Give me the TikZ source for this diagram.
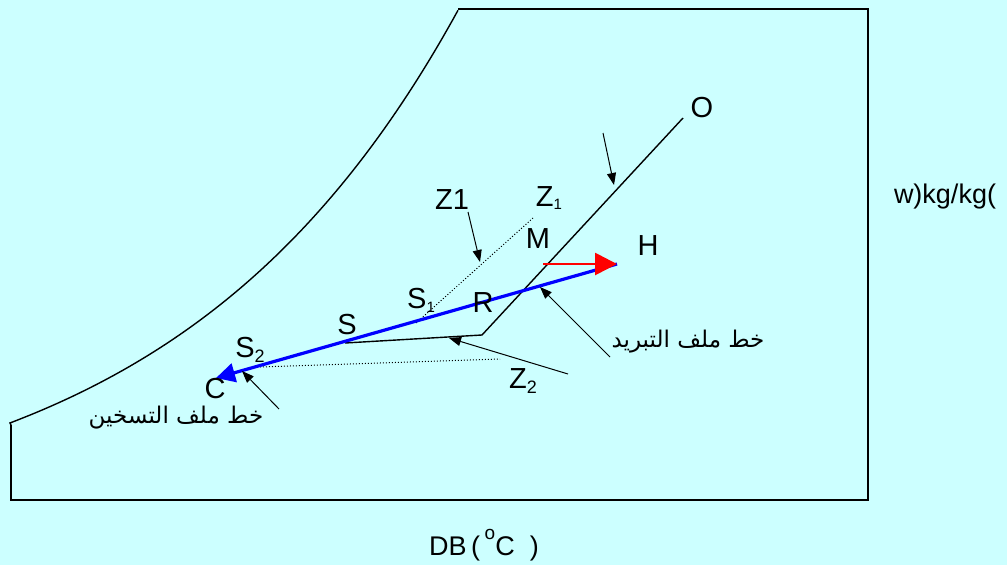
\documentclass[tikz,border=0pt]{standalone}
\usepackage{fontspec}
\setmainfont{Liberation Sans}
\newfontfamily\arabicfont[Script=Arabic]{DejaVu Sans}
\TeXXeTstate=1
\usetikzlibrary{arrows.meta}
\definecolor{bgcyan}{RGB}{204,255,255}
\definecolor{cblue}{RGB}{0,0,255}
\definecolor{cred}{RGB}{255,0,0}
\begin{document}
\begin{tikzpicture}[x=1pt,y=-1pt,
  lbl/.style={font=\fontsize{29}{32}\selectfont, inner sep=0pt},
  arlbl/.style={font=\arabicfont\fontsize{23}{26}\selectfont, inner sep=0pt},
  frame/.style={line width=1.8pt},
  proc/.style={line width=1.4pt},
  pointer/.style={line width=1pt,-{Triangle[length=12pt,width=9pt]}},
  dotline/.style={line width=1pt,dotted},
  heatline/.style={line width=3.2pt,cblue,-{Triangle[length=19pt,width=19pt]}},
  redarrow/.style={line width=2.8pt,cred,-{Triangle[length=22pt,width=22pt]}}]
\useasboundingbox (0,0) rectangle (1007,565);
\fill[bgcyan] (0,0) rectangle (1007,565);

% chart frame and saturation curve
\draw[frame] (11,425) -- (11,500) -- (868,500) -- (868,9) -- (458,9);
\draw[line width=1.4pt] plot[domain=458:10, samples=80, smooth] (\x,{532-105.3*exp(0.0035*\x)}) -- (11,425);

% process points
\coordinate (O) at (683,118);
\coordinate (Rc) at (482,335);
\coordinate (Sp) at (345,343);
\coordinate (Cp) at (216,378);
\coordinate (Hp) at (617,264);
\coordinate (Mp) at (543,264);
\coordinate (Z1a) at (533,218);
\coordinate (Z1b) at (415,324);
\coordinate (Z2a) at (260,367);
\coordinate (Z2b) at (500,359);

% process lines
\draw[proc] (O) -- (Rc) -- (Sp);
\draw[dotline] (Z1a) -- (Z1b);
\draw[dotline] (Z2a) -- (Z2b);
\draw[heatline] (Hp) -- (Cp);
\draw[redarrow] (Mp) -- (Hp);

% pointer arrows
\coordinate (pOa) at (603,133);  \coordinate (pOb) at (614,185);
\coordinate (pZ1a) at (468,212); \coordinate (pZ1b) at (480,262);
\coordinate (pCa) at (610,357);  \coordinate (pCb) at (540,287);
\coordinate (pZ2a) at (568,374); \coordinate (pZ2b) at (449,338);
\coordinate (pHa) at (279,409);  \coordinate (pHb) at (242,371);
\draw[pointer] (pOa) -- (pOb);
\draw[pointer] (pZ1a) -- (pZ1b);
\draw[pointer] (pCa) -- (pCb);
\draw[pointer] (pZ2a) -- (pZ2b);
\draw[pointer] (pHa) -- (pHb);

% labels
\node[lbl] (lO) at (702,108) {O};
\node[lbl] (lZ1s) at (549,198) {Z\raisebox{-0.25ex}{\fontsize{15}{15}\selectfont 1}};
\node[lbl] (lZ1) at (452,200) {Z1};
\node[lbl] (lM) at (538,239) {M};
\node[lbl] (lH) at (648,246) {H};
\node[lbl] (lS1) at (421,300) {S\raisebox{-0.25ex}{\fontsize{15}{15}\selectfont 1}};
\node[lbl] (lR) at (483,303) {R};
\node[lbl] (lS) at (347,325) {S};
\node[lbl] (lS2) at (250,350) {S\raisebox{-0.3ex}{\fontsize{18}{18}\selectfont 2}};
\node[lbl] (lC) at (215,389) {C};
\node[lbl] (lZ2) at (523,381) {Z\raisebox{-0.3ex}{\fontsize{18}{18}\selectfont 2}};
\node[arlbl] (lcool) at (688,342) {\beginR خط ملف التبريد\endR};
\node[arlbl] (lheat) at (176,418) {\beginR خط ملف التسخين\endR};
\node[lbl, font=\fontsize{27}{30}\selectfont] (lw) at (945,197) {w)kg/kg(};
\node[lbl, font=\fontsize{27}{30}\selectfont] (lDB) at (484,545) {DB\,(\,\raisebox{1.1ex}{\fontsize{19}{19}\selectfont o}C\ \ )};
\end{tikzpicture}
\end{document}
